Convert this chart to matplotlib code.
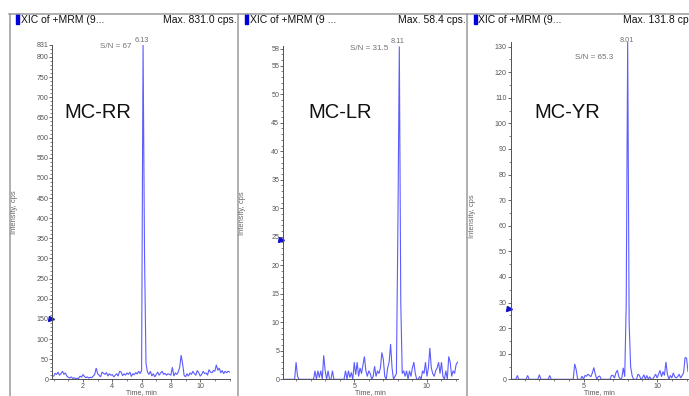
import matplotlib
matplotlib.use('Agg')
import matplotlib.pyplot as plt
import numpy as np
from matplotlib.ticker import MultipleLocator, FixedLocator
from matplotlib.lines import Line2D
from matplotlib.patches import Rectangle
import matplotlib.transforms as mtransforms

plt.rcParams['font.family'] = ['Liberation Sans', 'DejaVu Sans']

# ---------------- data (sampled every 0.1 min from t = 0.0) ----------------
rr_intensity = [8, 15, 12, 18, 10, 14, 20, 12, 16, 8,
                5, 3, 6, 2, 4, 1, 3, 2, 8, 5,
                12, 7, 4, 6, 3, 5, 4, 8, 12, 28,
                14, 10, 6, 18, 15, 12, 17, 8, 14, 10,
                12, 6, 10, 14, 8, 20, 18, 9, 14, 10,
                16, 12, 18, 7, 14, 11, 17, 13, 20, 14,
                22, 831, 310, 40, 18, 12, 20, 8, 14, 6,
                12, 18, 10, 16, 20, 12, 15, 10, 14, 12,
                10, 30, 8, 16, 12, 18, 30, 60, 38, 10,
                6, 14, 8, 16, 12, 20, 14, 10, 22, 16,
                8, 12, 20, 14, 16, 10, 24, 18, 16, 22,
                20, 36, 22, 28, 16, 22, 14, 20, 16, 20,
                18]

lr_intensity = [0, 0, 0, 0, 0, 0, 0, 0, 0, 0,
                3.0, 0.5, 0, 0, 0, 0, 0, 0, 0, 0,
                0, 0, 0, 1.5, 0, 1.5, 0.3, 1.5, 0, 4.2,
                1.5, 0, 1.5, 0, 0, 1.5, 0, 0, 0, 0,
                0, 0, 0, 0, 1.5, 0, 1.5, 0.3, 1.2, 0,
                3.0, 0.8, 3.0, 0.5, 2.0, 1.0, 2.5, 4.0, 1.5, 0.5,
                1.5, 1.0, 0, 0.5, 2.3, 0.5, 1.5, 1.0, 2.0, 4.7,
                3.5, 0.5, 0, 2.0, 3.0, 6.2, 2.0, 0, 0.5, 1.0,
                26, 58.4, 13.6, 1.0, 1.5, 0.5, 1.5, 0, 1.5, 0.5,
                2.0, 3.0, 1.0, 0, 0, 0.5, 0, 1.5, 1.0, 3.0,
                0.5, 2.0, 5.5, 2.0, 1.0, 0.5, 1.5, 2.0, 3.0, 1.0,
                3.0, 0.5, 0, 1.5, 0, 4.0, 3.0, 0.5, 1.5, 1.0,
                2.5, 3.0]

yr_intensity = [0, 0, 0, 0, 0, 1.5, 0, 0, 0, 0,
                0, 0, 1.5, 0, 0, 0, 0, 0, 0, 0,
                1.8, 0, 0, 0, 0, 0, 0, 1.5, 0, 0,
                0, 0, 0, 0, 0, 0, 0, 0, 0, 0,
                0, 0, 0, 0, 6.0, 3.8, 0, 0, 0, 1.2,
                0, 1.5, 1.2, 2.0, 1.5, 1.0, 2.5, 4.6, 2.0, 0,
                1.0, 1.3, 0, 0, 0, 0, 0, 0, 0, 1.5,
                1.5, 0.5, 2.5, 3.5, 1.0, 0, 0.5, 4.5, 1.0, 29,
                131.8, 22, 5, 1.5, 0, 0, 0, 2.0, 1.5, 0,
                0.5, 1.8, 0, 1.5, 0, 1.0, 0, 0, 1.0, 2.0,
                0.5, 2.0, 3.5, 1.0, 3.0, 1.5, 6.8, 2.0, 0, 1.5,
                0.5, 2.5, 1.0, 0.5, 1.0, 2.0, 0.5, 1.5, 2.5, 8.5,
                8.3, 3.0]

compounds = ["MC-RR", "MC-LR", "MC-YR"]
header_left = ["XIC of +MRM (9...", "XIC of +MRM (9 ...", "XIC of +MRM (9..."]
header_right = ["Max. 831.0 cps.", "Max. 58.4 cps.", "Max. 131.8 cp"]
peak_rt = ["6.13", "8.11", "8.01"]
sn_text = ["S/N = 67", "S/N = 31.5", "S/N = 65.3"]
y_max = [831.0, 58.4, 131.8]
y_ticks = [[0, 50, 100, 150, 200, 250, 300, 350, 400, 450, 500, 550, 600, 650, 700, 750, 800, 831],
           [0, 5, 10, 15, 20, 25, 30, 35, 40, 45, 50, 55, 58],
           [0, 10, 20, 30, 40, 50, 60, 70, 80, 90, 100, 110, 120, 130]]
x_ticks = [[2, 4, 6, 8, 10], [5, 10], [5, 10]]
marker_level = [150, 24.4, 27.5]
series = [rr_intensity, lr_intensity, yr_intensity]

# ---------------- layout (pixels) ----------------
W, H = 689, 396
fig = plt.figure(figsize=(W / 100, H / 100), dpi=100)

def fx(x):
    return x / W

def fy(y):
    return 1 - y / H

axes_px = [(52.5, 230.1, 44.5, 379.3), (283.0, 458.2, 46.4, 379.3), (510.7, 688.0, 41.9, 379.3)]
xlims = [(-0.08, 12.04), (0.1, 12.15), (0.05, 12.1)]
y_minor = [10, 1, 5]
frame_x = [9.5, 238.3, 467.0]
square_x = [15.7, 244.7, 473.7]
hl_x = [21.0, 250.0, 478.3]
hr_x = [236.8, 465.5, 688.5]
peak_pos = [(141.7, 40.5), (398.0, 41.7), (626.7, 40.8)]
sn_pos = [(115.3, 46.0), (368.8, 48.0), (594.0, 57.5)]
label_pos = [(98.0, 113.0), (340.0, 113.0), (567.0, 113.0)]
ylab_pos = [(15.0, 212.0), (242.7, 213.0), (472.7, 216.0)]

line_col = '#5c5cff'
axis_col = '#505050'
tick_lab_col = '#555555'
frame_col = '#9a9a9a'

# frame lines
fig.add_artist(Line2D([fx(8.5), 1.0], [fy(13.5), fy(13.5)], color=frame_col, lw=1.1,
                      transform=fig.transFigure))
for xf in frame_x:
    fig.add_artist(Line2D([fx(xf), fx(xf)], [fy(13.5), 0.0], color=frame_col, lw=1.1,
                          transform=fig.transFigure))

for i in range(3):
    l, r, t, b = axes_px[i]
    ax = fig.add_axes([fx(l), fy(b), (r - l) / W, (b - t) / H])
    vals = np.array(series[i], dtype=float)
    times = np.arange(len(vals)) * 0.1
    ax.plot(times, vals, color=line_col, lw=0.8, solid_joinstyle='miter')
    ax.set_xlim(*xlims[i])
    ax.set_ylim(0, y_max[i])
    for s in ['top', 'right']:
        ax.spines[s].set_visible(False)
    for s in ['left', 'bottom']:
        ax.spines[s].set_color(axis_col)
        ax.spines[s].set_linewidth(0.7)
    ax.yaxis.set_major_locator(FixedLocator(y_ticks[i]))
    ax.yaxis.set_minor_locator(MultipleLocator(y_minor[i]))
    ax.xaxis.set_major_locator(FixedLocator(x_ticks[i]))
    ax.xaxis.set_minor_locator(MultipleLocator(1))
    ax.tick_params(axis='both', which='major', length=2.0, width=0.6, color=axis_col,
                   labelsize=5.1, labelcolor=tick_lab_col, pad=0.7, direction='out')
    ax.tick_params(axis='x', which='major', pad=0.4)
    ax.tick_params(axis='both', which='minor', length=1.1, width=0.5, color=axis_col,
                   direction='out')
    ax.set_yticklabels([str(v) for v in y_ticks[i]])
    ax.patch.set_alpha(0)

    # marker triangle on the y axis
    trans = mtransforms.blended_transform_factory(ax.transAxes, ax.transData)
    ax.plot([-1.6 / (r - l)], [marker_level[i]], marker='>', ms=3.6, color='#1010c8',
            transform=trans, clip_on=False, ls='none')

    # axis labels
    fig.text(fx(ylab_pos[i][0]), fy(ylab_pos[i][1]), "Intensity, cps", rotation=90,
             ha='center', va='center', fontsize=5.4, color='#666666')
    fig.text(fx((l + r) / 2), fy(395.8), "Time, min", ha='center', va='bottom',
             fontsize=5.0, color='#555555')

    # header
    fig.add_artist(Rectangle((fx(square_x[i]), fy(24.0)), 3.6 / W, 10.0 / H,
                             color='#0000dd', transform=fig.transFigure))
    fig.text(fx(hl_x[i]), fy(20.0), header_left[i], ha='left', va='center',
             fontsize=7.5, color='#111111')
    fig.text(fx(hr_x[i]), fy(20.0), header_right[i], ha='right', va='center',
             fontsize=7.5, color='#111111')

    # annotations
    fig.text(fx(peak_pos[i][0]), fy(peak_pos[i][1]), peak_rt[i], ha='center', va='center',
             fontsize=5.3, color='#707070')
    fig.text(fx(sn_pos[i][0]), fy(sn_pos[i][1]), sn_text[i], ha='center', va='center',
             fontsize=5.8, color='#707070')
    fig.text(fx(label_pos[i][0]), fy(label_pos[i][1]), compounds[i], ha='center', va='center',
             fontsize=14.5, color='#111111')

fig.savefig('out.png', dpi=100)
